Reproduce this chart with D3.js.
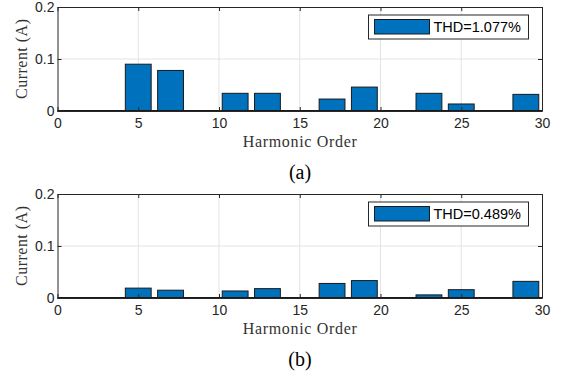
<!DOCTYPE html>
<html>
<head>
<meta charset="utf-8">
<script src="https://cdn.jsdelivr.net/npm/d3@7"></script>
<style>
  body { margin: 0; background: #fff; }
  svg { display: block; }
</style>
</head>
<body>
<script>
var width = 563,
    height = 381;

// harmonic orders and measured currents (A)
var harmonics = [5, 7, 11, 13, 17, 19, 23, 25, 29];
var currentA = [0.090, 0.078, 0.034, 0.034, 0.023, 0.046, 0.034, 0.0135, 0.032];
var currentB = [0.019, 0.015, 0.0135, 0.018, 0.028, 0.0335, 0.006, 0.016, 0.032];
var thdLabels = ["THD=1.077%", "THD=0.489%"];
var panelLabels = ["(a)", "(b)"];
var xTicks = [0, 5, 10, 15, 20, 25, 30];
var yTicks = [0, 0.1, 0.2];

var svg = d3.select("body").append("svg")
    .attr("width", width)
    .attr("height", height);

var x = d3.scaleLinear()
    .domain([0, 30])
    .range([57.5, 542]);

var barW = x(1.6) - x(0);

function drawPanel(top, values, thd, tag) {
    var y = d3.scaleLinear()
        .domain([0, 0.2])
        .range([top + 104, top]);

    var g = svg.append("g");

    // grid
    g.selectAll("line.gx")
        .data(xTicks.slice(1, -1))
        .enter().append("line")
        .attr("x1", function(d) { return x(d); })
        .attr("x2", function(d) { return x(d); })
        .attr("y1", y(0))
        .attr("y2", y(0.2))
        .attr("stroke", "#e3e3e3")
        .attr("stroke-width", 1);
    g.selectAll("line.gy")
        .data(yTicks.slice(1, -1))
        .enter().append("line")
        .attr("x1", x(0))
        .attr("x2", x(30))
        .attr("y1", function(d) { return y(d); })
        .attr("y2", function(d) { return y(d); })
        .attr("stroke", "#e3e3e3")
        .attr("stroke-width", 1);

    // bars
    g.selectAll("rect.bar")
        .data(values)
        .enter().append("rect")
        .attr("x", function(d, i) { return x(harmonics[i]) - barW / 2; })
        .attr("y", function(d) { return y(d); })
        .attr("width", barW)
        .attr("height", function(d) { return y(0) - y(d); })
        .attr("fill", "#0072BD")
        .attr("stroke", "#1a1a1a")
        .attr("stroke-width", 1);

    // baseline
    g.append("line")
        .attr("x1", x(0)).attr("x2", x(30))
        .attr("y1", y(0)).attr("y2", y(0))
        .attr("stroke", "#1a1a1a")
        .attr("stroke-width", 2);

    // axes
    var ax = g.append("g")
        .attr("transform", "translate(0," + y(0) + ")")
        .call(d3.axisBottom(x).tickValues(xTicks).tickSizeInner(-4).tickSizeOuter(0).tickPadding(7));
    var ay = g.append("g")
        .attr("transform", "translate(" + x(0) + ",0)")
        .call(d3.axisLeft(y).tickValues(yTicks).tickFormat(d3.format("~g")).tickSizeInner(-4).tickSizeOuter(0).tickPadding(3));
    var axTop = g.append("g")
        .attr("transform", "translate(0," + y(0.2) + ")")
        .call(d3.axisTop(x).tickValues(xTicks).tickSizeInner(-4).tickSizeOuter(0).tickFormat(""));
    var ayRight = g.append("g")
        .attr("transform", "translate(" + x(30) + ",0)")
        .call(d3.axisRight(y).tickValues(yTicks).tickSizeInner(-4).tickSizeOuter(0).tickFormat(""));

    [ax, ay, axTop, ayRight].forEach(function(a) {
        a.selectAll("path, line").attr("stroke", "#262626");
        a.selectAll("text")
            .attr("fill", "#262626")
            .style("font-family", "Arial, 'Liberation Sans', sans-serif")
            .style("font-size", "14px");
    });

    // axis titles
    g.append("text")
        .attr("x", x(15))
        .attr("y", y(0) + 36)
        .attr("text-anchor", "middle")
        .attr("fill", "#333")
        .style("font-family", "'Liberation Serif', serif")
        .style("font-size", "16px")
        .attr("textLength", 114)
        .text("Harmonic Order");

    g.append("text")
        .attr("transform", "translate(27," + y(0.1) + ") rotate(-90)")
        .attr("text-anchor", "middle")
        .attr("fill", "#333")
        .style("font-family", "'Liberation Serif', serif")
        .style("font-size", "16px")
        .attr("textLength", 80)
        .text("Current (A)");

    // legend
    var lg = g.append("g");
    lg.append("rect")
        .attr("x", 368.5).attr("y", top + 8)
        .attr("width", 160).attr("height", 24)
        .attr("fill", "#fff")
        .attr("stroke", "#262626")
        .attr("stroke-width", 1);
    lg.append("rect")
        .attr("x", 374.5).attr("y", top + 12.5)
        .attr("width", 55).attr("height", 14.5)
        .attr("fill", "#0072BD")
        .attr("stroke", "#1a1a1a")
        .attr("stroke-width", 1);
    lg.append("text")
        .attr("x", 433.5).attr("y", top + 25)
        .attr("fill", "#000")
        .style("font-family", "Arial, 'Liberation Sans', sans-serif")
        .style("font-size", "14.5px")
        .text(thd);

    // panel tag
    g.append("text")
        .attr("x", 300)
        .attr("y", y(0) + 68)
        .attr("text-anchor", "middle")
        .attr("fill", "#000")
        .style("font-family", "'Liberation Serif', serif")
        .style("font-size", "20px")
        .text(tag);
}

drawPanel(7, currentA, thdLabels[0], panelLabels[0]);
drawPanel(194, currentB, thdLabels[1], panelLabels[1]);
</script>
</body>
</html>
